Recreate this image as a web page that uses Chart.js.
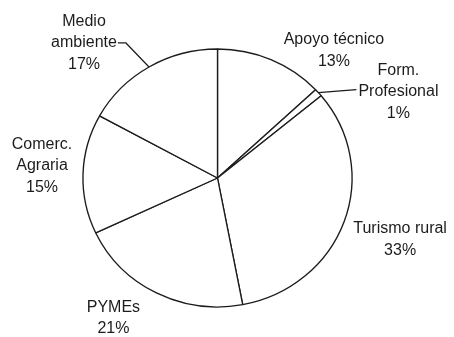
<!DOCTYPE html>
<html>
<head>
<meta charset="utf-8">
<script src="https://cdn.jsdelivr.net/npm/chart.js@4.4.0/dist/chart.umd.min.js"></script>
<style>
  html, body { margin: 0; padding: 0; background: #ffffff; }
  #wrap { width: 454px; height: 337px; position: relative; }
</style>
</head>
<body>
<div id="wrap"><canvas id="pieChart" width="454" height="337"></canvas></div>
<script>
// Slices, clockwise from 12 o'clock
const categories = [
  ["Apoyo técnico"],
  ["Form.", "Profesional"],
  ["Turismo rural"],
  ["PYMEs"],
  ["Comerc.", "Agraria"],
  ["Medio", "ambiente"],
];
const shares = [13, 1, 33, 21, 15, 17];

// Label placement: offset of the text block centre from the rim point at mid-angle
const labelOffsets = [[63, -9], [80, -1], [56, 18], [-43, 25], [-41, -8], [-65, -24]];
// Slices whose label is tied to the rim with a leader line
const leaders = { 1: "form", 5: "medio" };

const stretchX = 1.043; // pie is drawn slightly wider than tall
const FONT = "16px 'Liberation Sans', Arial, sans-serif";
const LINE_H = 21.5;

const ellipsePlugin = {
  id: "ellipse",
  beforeDatasetsDraw(chart) {
    const arc = chart.getDatasetMeta(0).data[0];
    const ctx = chart.ctx;
    ctx.save();
    ctx.translate(arc.x, arc.y);
    ctx.scale(stretchX, 1);
    ctx.translate(-arc.x, -arc.y);
  },
  afterDatasetsDraw(chart) {
    chart.ctx.restore();
  },
};

const outsideLabels = {
  id: "outsideLabels",
  afterDraw(chart) {
    const ctx = chart.ctx;
    const arcs = chart.getDatasetMeta(0).data;
    ctx.save();
    ctx.font = FONT;
    ctx.fillStyle = "#1c1c1c";
    ctx.strokeStyle = "#1c1c1c";
    ctx.lineWidth = 1.2;
    ctx.textAlign = "center";
    ctx.textBaseline = "middle";
    arcs.forEach((arc, i) => {
      const mid = (arc.startAngle + arc.endAngle) / 2;
      const px = arc.x + arc.outerRadius * stretchX * Math.cos(mid);
      const py = arc.y + arc.outerRadius * Math.sin(mid);
      const lines = categories[i].concat([shares[i] + "%"]);
      const cx = px + labelOffsets[i][0];
      const cy = py + labelOffsets[i][1];
      const top = cy - (lines.length - 1) * LINE_H / 2;
      lines.forEach((t, k) => ctx.fillText(t, cx, top + k * LINE_H));

      if (leaders[i] === "medio") {
        // from the end of the middle line, short dash then down to the rim
        const w = ctx.measureText(lines[1]).width;
        const sx = cx + w / 2 + 1;
        const sy = top + LINE_H;
        ctx.beginPath();
        ctx.moveTo(sx, sy);
        ctx.lineTo(sx + 8, sy);
        ctx.lineTo(px, py);
        ctx.stroke();
      } else if (leaders[i] === "form") {
        // from the rim across to the left of the middle line
        const w = ctx.measureText(lines[1]).width;
        const ex = cx - w / 2 - 2;
        const ey = top + LINE_H - 2;
        ctx.beginPath();
        ctx.moveTo(px, py);
        ctx.lineTo(ex, ey);
        ctx.stroke();
      }
    });
    ctx.restore();
  },
};

const ctx = document.getElementById("pieChart").getContext("2d");
new Chart(ctx, {
  type: "pie",
  data: {
    labels: categories.map(c => c.join(" ")),
    datasets: [
      {
        data: shares,
        backgroundColor: "#ffffff",
        borderColor: "#1c1c1c",
        borderWidth: 1.3,
        radius: 129,
      },
    ],
  },
  options: {
    responsive: false,
    animation: false,
    layout: { padding: { top: 49, bottom: 30, left: 60, right: 79 } },
    plugins: {
      legend: { display: false },
      tooltip: { enabled: false },
    },
  },
  plugins: [ellipsePlugin, outsideLabels],
});
</script>
</body>
</html>
